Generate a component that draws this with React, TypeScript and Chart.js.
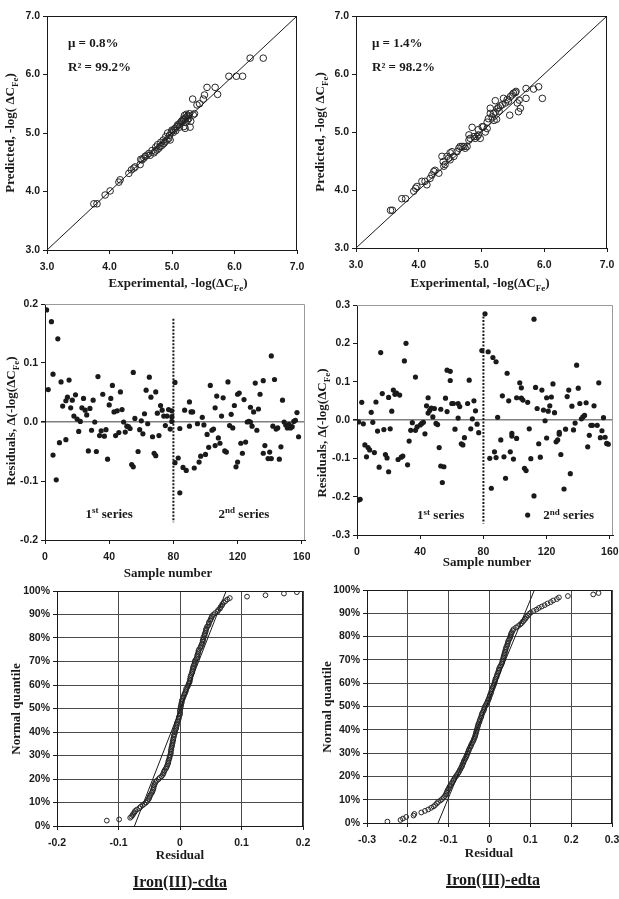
import React, { useEffect, useRef } from "react";
import { Chart, registerables } from "chart.js";

Chart.register(...registerables);

const INK = "#1a1a1a";
const SANS = '"Liberation Sans", Arial, sans-serif';
const SERIF = '"Liberation Serif", "Times New Roman", serif';

// ---------------- tick labels ----------------
const diagTickLabels = ["3.0", "4.0", "5.0", "6.0", "7.0"];
const sampleTickLabels = ["0", "40", "80", "120", "160"];
const residTickLabelsL = ["-0.2", "-0.1", "0.0", "0.1", "0.2"];
const residTickLabelsR = ["-0.3", "-0.2", "-0.1", "0.0", "0.1", "0.2", "0.3"];
const qqXTickLabelsL = ["-0.2", "-0.1", "0", "0.1", "0.2"];
const qqXTickLabelsR = ["-0.3", "-0.2", "-0.1", "0", "0.1", "0.2", "0.3"];
const qqYTickLabels = ["0%", "10%", "20%", "30%", "40%", "50%", "60%", "70%", "80%", "90%", "100%"];

// ---------------- reference lines ----------------
const identityX = [3, 7];
const identityY = [3, 7];
const dividerX = [80, 80];
const dividerYL = [0.175, -0.17];
const dividerYR = [0.27, -0.27];
const qqLineLX = [-0.074, 0.075];
const qqLineRX = [-0.126, 0.11];
const qqLineY = [0, 100];

// ---------------- predicted vs experimental (cdta) ----------------
const scatterL: [number, number][] = [
  [3.75, 3.79], [3.8, 3.79], [3.93, 3.94], [4.01, 4.01], [4.15, 4.16], [4.17, 4.2], [4.31, 4.31], [4.35, 4.37],
  [4.39, 4.4], [4.41, 4.42], [4.49, 4.46], [4.5, 4.55], [4.52, 4.54], [4.55, 4.57], [4.57, 4.6], [4.6, 4.62],
  [4.63, 4.65], [4.65, 4.62], [4.68, 4.7], [4.71, 4.66], [4.73, 4.69], [4.74, 4.76], [4.76, 4.71], [4.77, 4.8],
  [4.79, 4.74], [4.81, 4.77], [4.82, 4.84], [4.84, 4.79], [4.86, 4.88], [4.87, 4.82], [4.89, 4.85], [4.9, 4.94],
  [4.92, 4.88], [4.93, 5.0], [4.95, 4.91], [4.96, 4.96], [4.97, 4.88], [4.99, 5.02], [5.0, 5.05], [5.02, 5.01],
  [5.03, 5.05], [5.05, 5.08], [5.06, 5.04], [5.08, 5.11], [5.09, 5.14], [5.11, 5.14], [5.12, 5.1], [5.13, 5.17],
  [5.15, 5.2], [5.16, 5.19], [5.18, 5.24], [5.19, 5.22], [5.19, 5.11], [5.2, 5.3], [5.21, 5.25], [5.21, 5.08],
  [5.22, 5.18], [5.23, 5.32], [5.24, 5.28], [5.25, 5.22], [5.26, 5.3], [5.27, 5.25], [5.28, 5.33], [5.29, 5.1],
  [5.3, 5.2], [5.33, 5.58], [5.34, 5.31], [5.36, 5.33], [5.4, 5.48], [5.44, 5.5], [5.5, 5.58], [5.52, 5.65],
  [5.56, 5.78], [5.69, 5.78], [5.73, 5.66], [5.91, 5.97], [6.03, 5.97], [6.13, 5.97], [6.25, 6.28], [6.46, 6.28],
];

// ---------------- predicted vs experimental (edta) ----------------
const scatterR: [number, number][] = [
  [3.55, 3.65], [3.58, 3.65], [3.73, 3.85], [3.79, 3.85], [3.92, 3.98], [3.95, 4.03], [3.97, 4.06], [4.05, 4.15],
  [4.1, 4.15], [4.13, 4.09], [4.18, 4.2], [4.21, 4.26], [4.24, 4.32], [4.26, 4.34], [4.32, 4.29], [4.37, 4.58],
  [4.39, 4.49], [4.4, 4.41], [4.42, 4.44], [4.45, 4.58], [4.48, 4.55], [4.5, 4.52], [4.5, 4.64], [4.53, 4.66],
  [4.56, 4.58], [4.61, 4.66], [4.64, 4.72], [4.66, 4.75], [4.69, 4.75], [4.72, 4.75], [4.74, 4.72], [4.77, 4.75],
  [4.8, 4.86], [4.82, 4.89], [4.8, 4.95], [4.85, 5.08], [4.88, 4.92], [4.9, 4.89], [4.93, 4.92], [4.95, 4.95],
  [4.98, 4.89], [4.95, 5.04], [5.01, 5.09], [5.03, 5.09], [5.06, 5.0], [5.09, 5.06], [5.09, 5.17], [5.11, 5.23],
  [5.14, 5.32], [5.14, 5.41], [5.17, 5.26], [5.19, 5.32], [5.2, 5.2], [5.22, 5.34], [5.24, 5.22], [5.25, 5.4],
  [5.22, 5.54], [5.27, 5.42], [5.28, 5.36], [5.3, 5.45], [5.33, 5.47], [5.35, 5.58], [5.38, 5.5], [5.41, 5.56],
  [5.43, 5.53], [5.45, 5.29], [5.46, 5.61], [5.49, 5.64], [5.51, 5.67], [5.54, 5.68], [5.55, 5.7], [5.57, 5.5],
  [5.59, 5.35], [5.6, 5.55], [5.62, 5.41], [5.71, 5.75], [5.71, 5.58], [5.83, 5.74], [5.91, 5.78], [5.97, 5.58],
];

// ---------------- residuals vs sample number (cdta) ----------------
const residL: [number, number][] = [
  [1, 0.19], [2, 0.055], [4, 0.17], [5, 0.081], [5, -0.056], [7, -0.098], [8, 0.141], [9, -0.035], [10, 0.068],
  [11, 0.027], [13, 0.036], [13, -0.03], [14, 0.042], [15, 0.071], [16, 0.024], [17, 0.037], [18, 0.01], [19, 0.046],
  [20, 0.005], [21, -0.016], [22, 0.001], [23, 0.024], [24, 0.04], [25, 0.02], [26, 0.012], [27, -0.049], [28, 0.023],
  [29, -0.014], [30, 0.037], [31, 0.0], [32, -0.05], [33, 0.077], [34, -0.023], [35, -0.015], [36, 0.047], [37, -0.024],
  [38, -0.013], [39, -0.063], [40, 0.029], [41, 0.04], [42, 0.062], [43, 0.017], [44, -0.023], [45, 0.019], [46, -0.018],
  [47, 0.051], [48, 0.021], [49, 0.0], [50, -0.017], [51, -0.007], [52, -0.008], [53, -0.011], [54, -0.072], [55, 0.084],
  [55, -0.076], [56, 0.006], [58, -0.05], [59, -0.013], [60, 0.002], [61, -0.02], [62, 0.014], [63, 0.054], [64, -0.003],
  [65, 0.076], [66, 0.042], [67, -0.025], [68, -0.053], [69, -0.057], [69, 0.051], [70, 0.015], [71, -0.023], [72, 0.028],
  [73, 0.02], [74, 0.01], [75, -0.006], [76, 0.01], [77, 0.021], [78, -0.012], [79, 0.009], [79, 0.001], [79, 0.019],
  [81, 0.067], [81, -0.069], [84, -0.12], [83, -0.061], [84, -0.011], [86, -0.077], [87, 0.02], [88, -0.082], [90, 0.034],
  [90, -0.007], [91, 0.017], [92, 0.017], [93, -0.078], [95, -0.003], [96, -0.068], [97, -0.058], [98, 0.008], [99, -0.005],
  [100, -0.055], [101, -0.021], [102, -0.043], [103, 0.062], [104, -0.014], [105, -0.012], [106, -0.04], [106, 0.024],
  [107, 0.044], [108, -0.027], [109, -0.036], [110, 0.01], [111, 0.041], [112, -0.049], [113, -0.051], [114, 0.068],
  [115, -0.006], [116, 0.013], [117, -0.01], [118, 0.028], [119, -0.076], [120, 0.047], [120, -0.068], [121, 0.049],
  [122, -0.036], [123, -0.053], [124, 0.038], [125, -0.034], [126, 0.0], [127, 0.001], [128, 0.0], [128, 0.025],
  [129, -0.007], [130, 0.017], [131, 0.066], [132, -0.014], [133, 0.022], [134, 0.047], [136, 0.07], [136, -0.053],
  [137, -0.04], [139, -0.062], [140, -0.051], [141, -0.062], [141, 0.112], [142, -0.007], [143, 0.072], [144, -0.012],
  [145, -0.01], [146, -0.063], [147, -0.042], [148, 0.037], [149, 0.0], [150, -0.005], [151, -0.01], [152, -0.004],
  [153, -0.01], [154, -0.008], [155, 0.001], [156, 0.003], [157, 0.016], [158, -0.025],
];

// ---------------- residuals vs sample number (edta) ----------------
const residR: [number, number][] = [
  [1, -0.005], [1, -0.209], [2, -0.207], [3, 0.046], [4, -0.01], [5, -0.065], [6, -0.096], [7, -0.072], [8, -0.078],
  [9, 0.02], [10, -0.006], [11, -0.085], [12, 0.047], [13, -0.029], [14, -0.123], [15, 0.176], [16, 0.069], [17, -0.025],
  [18, -0.09], [19, -0.099], [20, -0.135], [20, 0.059], [21, -0.023], [22, 0.023], [23, 0.078], [24, 0.067], [25, 0.07],
  [26, -0.103], [27, 0.065], [28, -0.097], [29, -0.094], [30, 0.154], [31, 0.2], [32, -0.117], [33, -0.055], [34, -0.027],
  [35, -0.007], [37, -0.027], [37, 0.112], [38, -0.018], [40, -0.013], [41, -0.009], [42, -0.006], [43, -0.036],
  [44, 0.037], [45, 0.058], [45, 0.018], [46, 0.025], [47, 0.031], [48, 0.008], [49, 0.03], [50, -0.009], [51, -0.012],
  [52, -0.072], [53, -0.12], [53, 0.028], [54, -0.163], [55, -0.122], [56, 0.057], [57, 0.022], [57, 0.13], [59, 0.103],
  [59, 0.127], [60, 0.043], [61, 0.043], [62, -0.024], [64, 0.005], [64, 0.043], [65, 0.035], [66, -0.062], [67, -0.065],
  [68, -0.046], [70, 0.043], [71, 0.104], [72, -0.023], [73, 0.003], [74, 0.05], [75, 0.024], [76, -0.011], [77, -0.033],
  [79, 0.181], [81, 0.277], [83, 0.178], [84, -0.1], [85, -0.178], [86, 0.163], [87, -0.083], [88, -0.098], [88, 0.152],
  [89, 0.007], [91, -0.052], [92, 0.063], [93, -0.096], [94, -0.152], [95, 0.122], [96, 0.05], [97, -0.083], [98, -0.035],
  [98, -0.042], [99, -0.102], [101, 0.058], [101, -0.048], [103, 0.097], [104, 0.084], [104, 0.057], [105, 0.052],
  [106, -0.126], [107, -0.132], [108, -0.248], [108, 0.046], [109, -0.023], [110, -0.101], [112, 0.263], [112, -0.198],
  [113, 0.085], [114, 0.03], [115, -0.062], [116, -0.097], [117, 0.078], [118, 0.026], [119, -0.002], [120, -0.047],
  [120, 0.058], [121, 0.023], [122, 0.037], [123, 0.06], [124, 0.094], [125, 0.019], [126, -0.057], [127, -0.052],
  [128, -0.037], [128, -0.032], [129, -0.09], [131, -0.18], [132, -0.024], [133, 0.061], [134, 0.078], [135, -0.14],
  [136, 0.036], [137, -0.026], [138, -0.008], [139, 0.143], [140, 0.083], [141, 0.043], [142, 0.003], [143, 0.008],
  [144, 0.012], [145, 0.045], [146, -0.07], [147, -0.04], [148, -0.014], [149, -0.014], [150, 0.037], [152, -0.014],
  [153, 0.097], [154, -0.046], [155, -0.028], [156, 0.006], [157, -0.045], [158, -0.061], [159, -0.063],
];

// ---------------- normal quantile plot (cdta): [residual, quantile %] ----------------
const qqL: [number, number][] = [
  [-0.119, 2.3], [-0.099, 2.8], [-0.081, 3.5], [-0.079, 4.0], [-0.077, 4.6], [-0.076, 5.2], [-0.074, 5.8], [-0.073, 6.4],
  [-0.07, 7.0], [-0.066, 7.6], [-0.064, 8.2], [-0.061, 8.8], [-0.058, 9.4], [-0.055, 10.0], [-0.053, 10.7], [-0.051, 11.4],
  [-0.05, 12.0], [-0.049, 12.7], [-0.048, 13.3], [-0.046, 14.0], [-0.045, 14.6], [-0.044, 15.3], [-0.043, 16.0],
  [-0.043, 16.6], [-0.042, 17.3], [-0.041, 17.9], [-0.04, 18.6], [-0.038, 19.2], [-0.035, 19.9], [-0.033, 20.5],
  [-0.03, 21.1], [-0.028, 21.8], [-0.027, 22.4], [-0.026, 23.1], [-0.025, 23.7], [-0.023, 24.4], [-0.022, 25.0],
  [-0.021, 25.6], [-0.02, 26.3], [-0.019, 26.9], [-0.019, 27.6], [-0.018, 28.2], [-0.017, 28.9], [-0.017, 29.5],
  [-0.016, 30.1], [-0.015, 30.8], [-0.015, 31.4], [-0.015, 32.1], [-0.014, 32.7], [-0.014, 33.4], [-0.013, 34.0],
  [-0.013, 34.6], [-0.012, 35.3], [-0.012, 35.9], [-0.011, 36.6], [-0.011, 37.2], [-0.01, 37.9], [-0.01, 38.5],
  [-0.009, 39.1], [-0.008, 39.8], [-0.008, 40.4], [-0.007, 41.1], [-0.006, 41.7], [-0.006, 42.4], [-0.005, 43.0],
  [-0.005, 43.6], [-0.004, 44.3], [-0.003, 44.9], [-0.002, 45.6], [-0.002, 46.2], [-0.001, 46.9], [0.0, 47.5],
  [0.0, 48.1], [0.0, 48.8], [0.0, 49.4], [0.001, 50.1], [0.001, 50.7], [0.002, 51.4], [0.002, 52.0], [0.003, 52.6],
  [0.003, 53.3], [0.004, 53.9], [0.005, 54.6], [0.006, 55.2], [0.007, 55.9], [0.008, 56.5], [0.009, 57.1], [0.01, 57.8],
  [0.01, 58.4], [0.012, 59.1], [0.013, 59.7], [0.014, 60.4], [0.015, 61.0], [0.016, 61.6], [0.016, 62.3], [0.017, 62.9],
  [0.017, 63.6], [0.018, 64.2], [0.019, 64.9], [0.02, 65.5], [0.02, 66.1], [0.021, 66.8], [0.021, 67.4], [0.022, 68.1],
  [0.023, 68.7], [0.024, 69.4], [0.024, 70.0], [0.025, 70.6], [0.027, 71.3], [0.028, 71.9], [0.028, 72.6], [0.029, 73.2],
  [0.03, 73.9], [0.03, 74.5], [0.031, 75.1], [0.033, 75.8], [0.034, 76.4], [0.035, 77.1], [0.036, 77.7], [0.037, 78.4],
  [0.037, 79.0], [0.038, 79.6], [0.038, 80.3], [0.04, 80.9], [0.04, 81.6], [0.041, 82.2], [0.042, 82.9], [0.042, 83.5],
  [0.043, 84.1], [0.044, 84.8], [0.046, 85.4], [0.047, 86.1], [0.047, 86.7], [0.049, 87.4], [0.05, 88.0], [0.051, 88.6],
  [0.052, 89.3], [0.054, 89.9], [0.057, 90.6], [0.061, 91.2], [0.062, 91.9], [0.065, 92.5], [0.066, 93.2], [0.068, 93.8],
  [0.069, 94.4], [0.071, 95.1], [0.074, 95.7], [0.077, 96.4], [0.081, 97.0], [0.109, 97.6], [0.139, 98.2], [0.169, 98.9],
  [0.19, 99.5],
];

// ---------------- normal quantile plot (edta): [residual, quantile %] ----------------
const qqR: [number, number][] = [
  [-0.25, 0.6], [-0.218, 1.3], [-0.212, 1.9], [-0.204, 2.6], [-0.186, 3.2], [-0.184, 3.9], [-0.167, 4.5], [-0.158, 5.2],
  [-0.15, 5.8], [-0.143, 6.5], [-0.137, 7.1], [-0.133, 7.7], [-0.129, 8.4], [-0.126, 9.0], [-0.12, 9.7], [-0.116, 10.3],
  [-0.112, 11.0], [-0.109, 11.6], [-0.107, 12.3], [-0.105, 12.9], [-0.104, 13.5], [-0.102, 14.2], [-0.1, 14.8],
  [-0.098, 15.5], [-0.096, 16.1], [-0.094, 16.8], [-0.091, 17.4], [-0.089, 18.1], [-0.087, 18.7], [-0.085, 19.4],
  [-0.082, 20.0], [-0.08, 20.6], [-0.077, 21.3], [-0.075, 21.9], [-0.073, 22.6], [-0.071, 23.2], [-0.069, 23.9],
  [-0.067, 24.5], [-0.066, 25.2], [-0.064, 25.8], [-0.063, 26.5], [-0.061, 27.1], [-0.059, 27.7], [-0.057, 28.4],
  [-0.056, 29.0], [-0.054, 29.7], [-0.053, 30.3], [-0.051, 31.0], [-0.05, 31.6], [-0.048, 32.3], [-0.046, 32.9],
  [-0.045, 33.5], [-0.043, 34.2], [-0.041, 34.8], [-0.039, 35.5], [-0.038, 36.1], [-0.036, 36.8], [-0.035, 37.4],
  [-0.034, 38.1], [-0.033, 38.7], [-0.032, 39.4], [-0.031, 40.0], [-0.03, 40.6], [-0.029, 41.3], [-0.028, 41.9],
  [-0.027, 42.6], [-0.025, 43.2], [-0.024, 43.9], [-0.023, 44.5], [-0.021, 45.2], [-0.02, 45.8], [-0.019, 46.5],
  [-0.018, 47.1], [-0.016, 47.7], [-0.014, 48.4], [-0.013, 49.0], [-0.012, 49.7], [-0.01, 50.3], [-0.008, 51.0],
  [-0.006, 51.6], [-0.004, 52.3], [-0.003, 52.9], [-0.001, 53.5], [0.0, 54.2], [0.001, 54.8], [0.003, 55.5],
  [0.004, 56.1], [0.005, 56.8], [0.006, 57.4], [0.008, 58.1], [0.009, 58.7], [0.011, 59.4], [0.012, 60.0], [0.013, 60.6],
  [0.014, 61.3], [0.015, 61.9], [0.017, 62.6], [0.018, 63.2], [0.019, 63.9], [0.021, 64.5], [0.022, 65.2], [0.023, 65.8],
  [0.024, 66.5], [0.026, 67.1], [0.028, 67.7], [0.03, 68.4], [0.031, 69.0], [0.032, 69.7], [0.033, 70.3], [0.034, 71.0],
  [0.035, 71.6], [0.036, 72.3], [0.037, 72.9], [0.038, 73.5], [0.039, 74.2], [0.04, 74.8], [0.041, 75.5], [0.043, 76.1],
  [0.044, 76.8], [0.045, 77.4], [0.046, 78.1], [0.048, 78.7], [0.05, 79.4], [0.051, 80.0], [0.052, 80.6], [0.053, 81.3],
  [0.055, 81.9], [0.057, 82.6], [0.059, 83.2], [0.065, 83.9], [0.07, 84.5], [0.075, 85.2], [0.079, 85.8], [0.082, 86.5],
  [0.085, 87.1], [0.088, 87.7], [0.091, 88.4], [0.094, 89.0], [0.097, 89.7], [0.101, 90.3], [0.108, 91.0], [0.115, 91.6],
  [0.121, 92.3], [0.128, 92.9], [0.135, 93.5], [0.142, 94.2], [0.15, 94.8], [0.156, 95.5], [0.165, 96.1], [0.17, 96.8],
  [0.192, 97.4], [0.254, 98.1], [0.267, 98.7],
];

// ---------------- helpers ----------------
type Seg = { t: string; sub?: boolean; sup?: boolean };
type Label = {
  segs: Seg[];
  x: number;
  y: number;
  size?: number;
  rotate?: boolean;
  align?: "left" | "center";
  data?: boolean;
};
type Axis = { min: number; max: number; step: number; labels: string[] };
type Panel = {
  left: number;
  top: number;
  w: number;
  h: number;
  area: [number, number, number, number];
  x: Axis;
  y: Axis;
  grid: "none" | "zero" | "full";
  frame: string;
  datasets: any[];
  labels: Label[];
};

const pts = (pairs: [number, number][]) => pairs.map(([x, y]) => ({ x, y }));
const zip = (xs: number[], ys: number[]) => xs.map((x, i) => ({ x, y: ys[i] }));

function drawRich(ctx: CanvasRenderingContext2D, lab: Label, x: number, y: number) {
  const size = lab.size ?? 13;
  const small = Math.round(size * 0.68);
  const fontFor = (s: Seg) => `bold ${s.sub || s.sup ? small : size}px ${SERIF}`;
  ctx.save();
  ctx.translate(x, y);
  if (lab.rotate) ctx.rotate(-Math.PI / 2);
  let w = 0;
  for (const s of lab.segs) {
    ctx.font = fontFor(s);
    w += ctx.measureText(s.t).width;
  }
  let cx = lab.align === "left" ? 0 : -w / 2;
  ctx.fillStyle = INK;
  ctx.textAlign = "left";
  ctx.textBaseline = "alphabetic";
  const base = size * 0.34;
  for (const s of lab.segs) {
    ctx.font = fontFor(s);
    const dy = s.sub ? size * 0.26 : s.sup ? -size * 0.38 : 0;
    ctx.fillText(s.t, cx, base + dy);
    cx += ctx.measureText(s.t).width;
  }
  ctx.restore();
}

function decoPlugin(p: Panel) {
  return {
    id: "deco",
    beforeDatasetsDraw(chart: any) {
      const { ctx, chartArea: a } = chart;
      ctx.save();
      ctx.strokeStyle = p.frame;
      ctx.lineWidth = 1;
      const t = Math.round(a.top) + 0.5;
      const r = Math.round(a.right) - 0.5;
      ctx.beginPath();
      ctx.moveTo(a.left, t);
      ctx.lineTo(r, t);
      ctx.lineTo(r, a.bottom);
      ctx.stroke();
      ctx.restore();
    },
    afterDraw(chart: any) {
      const { ctx } = chart;
      for (const lab of p.labels) {
        let x = lab.x;
        let y = lab.y;
        if (lab.data) {
          x = chart.scales.x.getPixelForValue(lab.x);
          y = chart.scales.y.getPixelForValue(lab.y);
        }
        drawRich(ctx, lab, x, y);
      }
    },
  };
}

function axisOpts(p: Panel, ax: Axis, isX: boolean) {
  const L = p.area[0];
  const B = p.area[3];
  let grid: any;
  if (p.grid === "full") {
    grid = { color: "#4a4a4a", lineWidth: 1, tickColor: INK, tickLength: 4 };
  } else if (p.grid === "zero" && !isX) {
    const isZero = (c: any) => c.tick && Math.abs(c.tick.value) < 1e-9;
    grid = {
      color: (c: any) => (isZero(c) ? "#7f7f7f" : "rgba(0,0,0,0)"),
      lineWidth: (c: any) => (isZero(c) ? 1.6 : 1),
      tickColor: INK,
      tickLength: 4,
    };
  } else {
    grid = { drawOnChartArea: false, tickColor: INK, tickLength: 4 };
  }
  return {
    type: "linear",
    min: ax.min,
    max: ax.max,
    grid,
    border: { display: true, color: INK, width: 1 },
    title: { display: false },
    ticks: {
      stepSize: ax.step,
      includeBounds: false,
      autoSkip: false,
      maxRotation: 0,
      minRotation: 0,
      color: INK,
      font: { family: SANS, size: 10.5, weight: "bold" },
      padding: isX ? 7 : 3,
      callback: (_v: any, i: number) => ax.labels[i] ?? "",
    },
    afterFit: (s: any) => {
      if (isX) {
        s.height = p.h - B;
        s.paddingLeft = 0;
        s.paddingRight = 0;
      } else {
        s.width = L;
        s.paddingTop = 0;
        s.paddingBottom = 0;
      }
    },
  };
}

function makeConfig(p: Panel): any {
  const [, T, R] = p.area;
  return {
    type: "scatter",
    data: { datasets: p.datasets },
    options: {
      responsive: false,
      animation: false,
      events: [],
      layout: { padding: { left: 0, top: T, right: p.w - R, bottom: 0 } },
      plugins: { legend: { display: false }, tooltip: { enabled: false }, title: { display: false } },
      scales: { x: axisOpts(p, p.x, true), y: axisOpts(p, p.y, false) },
    },
    plugins: [decoPlugin(p)],
  };
}

const openCircles = (data: any[], r: number) => ({
  data,
  showLine: false,
  pointStyle: "circle",
  pointRadius: r,
  pointBorderWidth: 1,
  pointBorderColor: "#262626",
  pointBackgroundColor: "rgba(255,255,255,0)",
  borderColor: "#262626",
  backgroundColor: "rgba(255,255,255,0)",
});
const dots = (data: any[]) => ({
  data,
  showLine: false,
  pointStyle: "circle",
  pointRadius: 2.6,
  pointBorderWidth: 0,
  pointBackgroundColor: "#1a1a1a",
  borderColor: "#1a1a1a",
  backgroundColor: "#1a1a1a",
});
const line = (data: any[], width = 1, dash: number[] = []) => ({
  data,
  showLine: true,
  pointRadius: 0,
  borderColor: INK,
  borderWidth: width,
  borderDash: dash,
  fill: false,
  tension: 0,
});

const sub = (t: string): Seg => ({ t, sub: true });
const sup = (t: string): Seg => ({ t, sup: true });
const txt = (t: string): Seg => ({ t });

const panels: Panel[] = [
  {
    left: 0, top: 0, w: 310, h: 295,
    area: [47, 16, 297, 250],
    x: { min: 3, max: 7, step: 1, labels: diagTickLabels },
    y: { min: 3, max: 7, step: 1, labels: diagTickLabels },
    grid: "none", frame: INK,
    datasets: [line(zip(identityX, identityY)), openCircles(pts(scatterL), 3.3)],
    labels: [
      { segs: [txt("Experimental, -log(ΔC"), sub("Fe"), txt(")")], x: 178, y: 283 },
      { segs: [txt("Predicted, -log( ΔC"), sub("Fe"), txt(")")], x: 10, y: 133, rotate: true },
      { segs: [txt("μ = 0.8%")], x: 68, y: 43, align: "left" },
      { segs: [txt("R² = 99.2%")], x: 68, y: 67, align: "left" },
    ],
  },
  {
    left: 310, top: 0, w: 309, h: 295,
    area: [46, 16, 297, 248],
    x: { min: 3, max: 7, step: 1, labels: diagTickLabels },
    y: { min: 3, max: 7, step: 1, labels: diagTickLabels },
    grid: "none", frame: INK,
    datasets: [line(zip(identityX, identityY)), openCircles(pts(scatterR), 3.3)],
    labels: [
      { segs: [txt("Experimental, -log(ΔC"), sub("Fe"), txt(")")], x: 170, y: 283 },
      { segs: [txt("Predicted, -log( ΔC"), sub("Fe"), txt(")")], x: 10, y: 132, rotate: true },
      { segs: [txt("μ = 1.4%")], x: 62, y: 43, align: "left" },
      { segs: [txt("R² = 98.2%")], x: 62, y: 67, align: "left" },
    ],
  },
  {
    left: 0, top: 295, w: 310, h: 290,
    area: [45, 9, 305, 245],
    x: { min: 0, max: 162, step: 40, labels: sampleTickLabels },
    y: { min: -0.2, max: 0.2, step: 0.1, labels: residTickLabelsL },
    grid: "zero", frame: "#9a9a9a",
    datasets: [line(zip(dividerX, dividerYL), 2, [2, 1.5]), dots(pts(residL))],
    labels: [
      { segs: [txt("Sample number")], x: 168, y: 278 },
      { segs: [txt("Residuals, Δ(-log(ΔC"), sub("Fe"), txt(")")], x: 11, y: 126, rotate: true },
      { segs: [txt("1"), sup("st"), txt(" series")], x: 40, y: -0.155, data: true },
      { segs: [txt("2"), sup("nd"), txt(" series")], x: 124, y: -0.155, data: true },
    ],
  },
  {
    left: 310, top: 295, w: 309, h: 290,
    area: [47, 10, 303, 240],
    x: { min: 0, max: 162, step: 40, labels: sampleTickLabels },
    y: { min: -0.3, max: 0.3, step: 0.1, labels: residTickLabelsR },
    grid: "zero", frame: "#9a9a9a",
    datasets: [line(zip(dividerX, dividerYR), 2, [2, 1.5]), dots(pts(residR))],
    labels: [
      { segs: [txt("Sample number")], x: 177, y: 267 },
      { segs: [txt("Residuals, Δ(-log(ΔC"), sub("Fe"), txt(")")], x: 12, y: 138, rotate: true },
      { segs: [txt("1"), sup("st"), txt(" series")], x: 53, y: -0.248, data: true },
      { segs: [txt("2"), sup("nd"), txt(" series")], x: 134, y: -0.248, data: true },
    ],
  },
  {
    left: 0, top: 585, w: 310, h: 290,
    area: [57, 6, 303, 241],
    x: { min: -0.2, max: 0.2, step: 0.1, labels: qqXTickLabelsL },
    y: { min: 0, max: 100, step: 10, labels: qqYTickLabels },
    grid: "full", frame: INK,
    datasets: [line(zip(qqLineLX, qqLineY)), openCircles(pts(qqL), 2.4)],
    labels: [
      { segs: [txt("Residual")], x: 180, y: 270 },
      { segs: [txt("Normal quantile")], x: 16, y: 124, rotate: true },
    ],
  },
  {
    left: 310, top: 585, w: 309, h: 290,
    area: [57, 4, 302, 238],
    x: { min: -0.3, max: 0.3, step: 0.1, labels: qqXTickLabelsR },
    y: { min: 0, max: 100, step: 10, labels: qqYTickLabels },
    grid: "full", frame: INK,
    datasets: [line(zip(qqLineRX, qqLineY)), openCircles(pts(qqR), 2.4)],
    labels: [
      { segs: [txt("Residual")], x: 179, y: 268 },
      { segs: [txt("Normal quantile")], x: 17, y: 122, rotate: true },
    ],
  },
];

function PanelChart({ p }: { p: Panel }) {
  const ref = useRef<HTMLCanvasElement>(null);
  useEffect(() => {
    if (!ref.current) return;
    const chart = new Chart(ref.current, makeConfig(p));
    return () => chart.destroy();
  }, [p]);
  return (
    <canvas
      ref={ref}
      width={p.w}
      height={p.h}
      style={{ position: "absolute", left: p.left, top: p.top, width: p.w, height: p.h }}
    />
  );
}

const compoundTitles = ["Iron(III)-cdta", "Iron(III)-edta"];

export default function App() {
  const titleStyle = (cx: number, cy: number): React.CSSProperties => ({
    position: "absolute",
    left: cx - 100,
    top: cy - 11,
    width: 200,
    height: 22,
    lineHeight: "22px",
    textAlign: "center",
    font: `bold 16px ${SERIF}`,
    color: INK,
    textDecoration: "underline",
    textDecorationThickness: "1.5px",
  });
  return (
    <div style={{ position: "absolute", left: 0, top: 0, width: 619, height: 899, background: "#fff", overflow: "hidden" }}>
      {panels.map((p, i) => (
        <PanelChart key={i} p={p} />
      ))}
      <div style={titleStyle(180, 884)}>{compoundTitles[0]}</div>
      <div style={titleStyle(493, 882)}>{compoundTitles[1]}</div>
    </div>
  );
}
